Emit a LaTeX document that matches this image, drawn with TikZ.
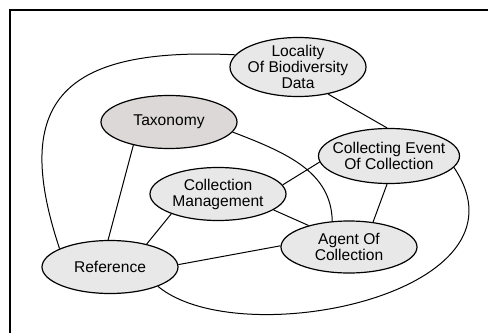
\documentclass[tikz,border=0pt]{standalone}
\usepackage{fontspec}
\setmainfont{Liberation Sans}
\usetikzlibrary{shapes.geometric}
\begin{document}
\begin{tikzpicture}[
      x=0.5pt, y=0.5pt,
      every node/.style={font=\fontsize{7.8}{8}\selectfont},
      ent/.style={draw, ellipse, line width=0.6pt, fill=gray!18,
                  inner sep=-20pt, minimum width=68pt, minimum height=26.5pt,
                  align=center},
      dark/.style={fill={rgb,255:red,220;green,216;blue,216}},
      link/.style={line width=0.5pt}
    ]
    \useasboundingbox (0,0) rectangle (488,333);

    % Rahmen
    \draw[line width=1pt] (10,0) -- (10,323) -- (488,323);

    % Entitaeten
    \node[ent, minimum height=29.5pt] (loc) at (298,266) {Locality\\Of Biodiversity\\Data};
    \node[ent, dark]  (tax)   at (169,211) {Taxonomy};
    \node[ent, minimum width=70.5pt, minimum height=27.5pt]
                      (cev)   at (389,177) {Collecting Event\\Of Collection};
    \node[ent]        (cm)    at (218,139) {Collection\\Management};
    \node[ent, minimum height=26pt]
                      (agent) at (349,86)  {Agent Of\\Collection};
    \node[ent]        (ref)   at (110,66)  {Reference};

    % Gerade Verbindungen
    \draw[link] (loc.-42)  -- (cev.94);
    \draw[link] (tax.213)  -- (ref.94);
    \draw[link] (cm.8)     -- (cev.185);
    \draw[link] (cm.-16)   -- (agent.152);
    \draw[link] (cm.203)   -- (ref.32);
    \draw[link] (cev.266)  -- (agent.46);
    \draw[link] (ref.2)    -- (agent.179);

    % Gebogene Verbindungen
    \draw[link] (tax.-9) .. controls +(55,-21) and +(-1,49) .. (agent.123);
    \draw[link] (loc.169) .. controls +(-170,8) and +(-50,150) .. (ref.160);
    \draw[link] (ref.-22) .. controls +(82,-68) and +(85,-126) .. (cev.-10);
  \end{tikzpicture}
\end{document}
